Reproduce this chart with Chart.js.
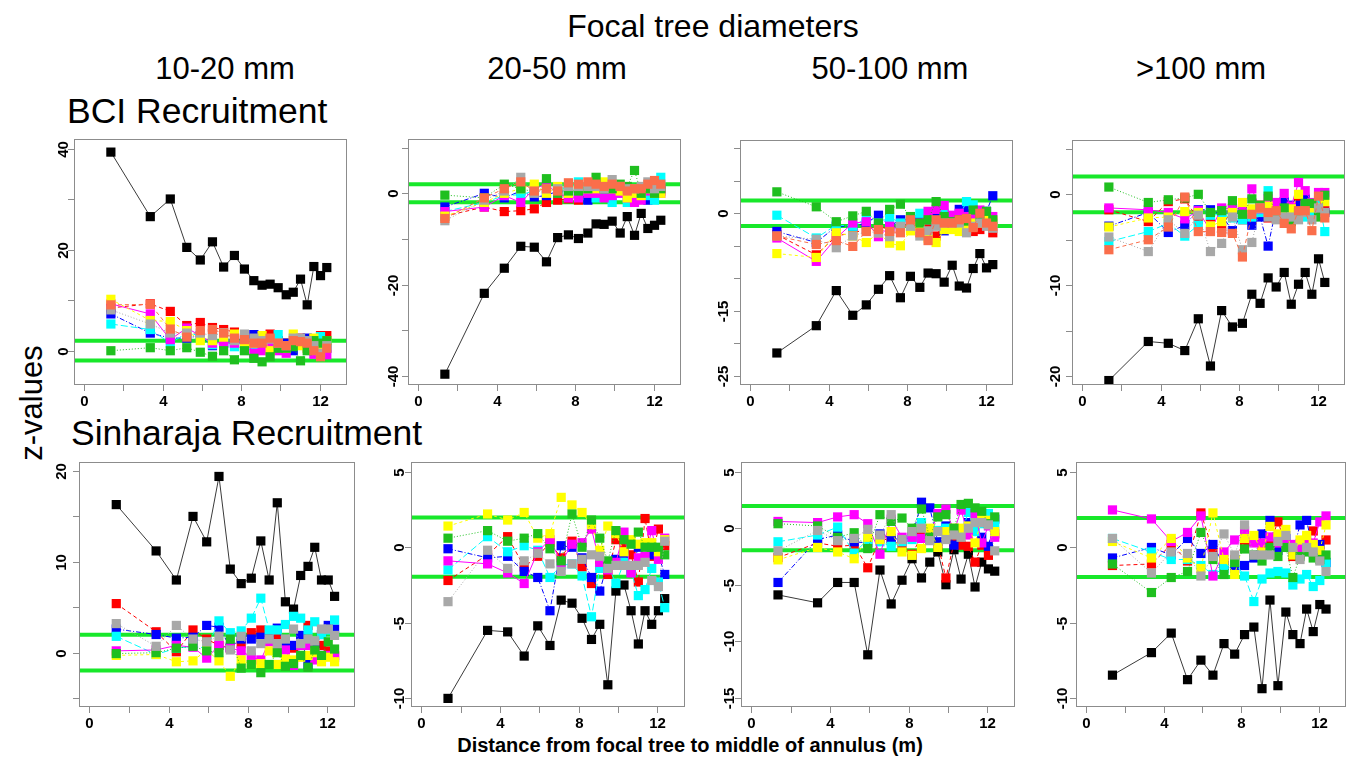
<!DOCTYPE html>
<html>
<head>
<meta charset="utf-8">
<script src="https://cdn.jsdelivr.net/npm/chart.js@4.4.0/dist/chart.umd.min.js"></script>
<style>
  body { margin: 0; background: #fff; width: 1352px; height: 757px; position: relative; overflow: hidden;
         font-family: "Liberation Sans", Arial, Helvetica, sans-serif; }
  .t { position: absolute; white-space: nowrap; line-height: 1; color: #000; }
  canvas { position: absolute; }
</style>
</head>
<body>
<script>
// distance from focal tree to middle of annulus (m)
const distance = [1.36, 3.37, 4.39, 5.23, 5.92, 6.54, 7.11, 7.66, 8.17, 8.65, 9.07, 9.48, 9.89, 10.3, 10.66, 11.03, 11.37, 11.71, 12.05, 12.37];

// series order: black, red, blue, cyan, magenta, yellow, green, grey, coral
const seriesColors = ["#000000", "#ff0000", "#0000ff", "#00ffff", "#ff00ff", "#ffff00", "#1fbf1f", "#a8a8a8", "#fa6e4b"];
const seriesDash = [[], [4, 3], [5, 2, 1, 2], [7, 3], [], [3, 3], [1, 2], [1, 2], [4, 3]];

const bci1020 = [
  [39.4, 26.6, 30.1, 20.5, 18.0, 21.6, 16.6, 18.9, 16.2, 13.9, 13.0, 13.2, 12.5, 11.1, 11.6, 14.2, 9.1, 16.7, 14.9, 16.5],
  [8.5, 9.3, 7.8, 5.0, 5.6, 4.6, 4.2, 3.7, 2.5, 2.5, 2.5, 3.3, 2.0, 1.5, 1.5, 2.5, 1.5, 1.0, 3.0, 3.0],
  [7.3, 3.5, 2.5, 2.5, 3.0, 1.0, 1.5, 1.5, 1.5, 3.2, 1.0, 2.0, 2.0, 1.5, 0.0, 1.5, 2.5, 0.5, 0.5, 0.5],
  [5.3, 4.2, 1.5, 3.5, 3.0, 1.2, 1.5, 0.8, 0.5, 1.0, 0.5, 1.5, 3.2, 1.0, 1.0, 1.5, 1.0, 0.5, 2.8, 1.5],
  [9.3, 7.3, 2.2, 4.5, 3.0, 1.5, 1.6, 1.5, 2.0, -0.5, 0.0, 1.0, 0.0, -0.5, 1.0, 2.0, 0.5, -0.7, 0.0, -0.8],
  [10.2, 6.0, 5.8, 4.0, 2.0, 2.0, 2.7, 3.3, 1.0, 1.5, 3.0, 0.0, 1.0, 0.5, 3.3, 1.0, 0.5, 2.5, 1.0, 2.0],
  [0.0, 0.6, 0.0, 0.6, -0.3, -1.1, 0.0, -1.8, 0.0, -1.5, -2.2, -1.2, 0.5, 0.5, 0.8, -2.0, 0.0, 2.0, 1.5, 2.0],
  [8.1, 5.3, 3.5, 3.5, 3.5, 3.0, 3.6, 2.0, 3.3, 2.5, 2.0, 2.3, 1.5, 1.0, 2.5, 2.5, 2.0, 1.0, -0.5, 1.0],
  [9.1, 9.2, 4.3, 2.7, 4.0, 4.2, 3.5, 2.5, 2.2, 1.5, 1.5, 2.5, 1.5, 1.0, 2.0, 1.8, 1.5, 0.0, -1.2, 0.5]
];
const bci2050 = [
  [-39.6, -21.9, -16.4, -11.6, -11.8, -15.0, -9.7, -9.1, -9.9, -8.7, -6.7, -6.8, -6.1, -8.7, -5.1, -9.2, -4.4, -7.7, -7.0, -5.9],
  [-5, -3, -4, -3.8, -3.4, -2, -1.5, -1.2, -1.5, 0, 0, -0.5, 0, 0, 0.5, 0, 0, 0, 0.5, 0.5],
  [-3, 0, -1, 0.5, -0.8, -0.5, 0.5, 0.5, 0, -1.5, 0.5, 0.5, 0.5, 0.5, 0, 0.5, 0.5, -1.5, 0, 1],
  [-4, -2, -0.5, -0.3, 0.5, 0.5, 1, 1, 2.5, 0.5, -1, 0, -2, 0, -2, 0, 0.5, -0.5, -1.5, 3.5],
  [-4, -3, -0.5, -2, 1, 2, 0, -1, -1, 0, 0, -1, -0.5, 0, -1, -2, -1.5, 0.5, 0.5, 0],
  [-5, -2, 0, 1, 2, 0, 1.5, 0, 1, 1, 1, 2.5, 1, 0.5, -1, 0, -0.5, 1, 0, 0],
  [-0.4, -1, 2, 1, 0.3, 3.2, 0, 0.5, 0.5, 1, 3.5, 1, 1, 2, 1.5, 5, 0, 1, 0, 1],
  [-6, -1.5, 0.5, 3.5, 0, 1, 1, 1.5, 1.5, 1.5, 1.5, 1, 3, 1.5, 1, 1, 1.5, 2.5, 1, 1.5],
  [-5.5, -1, 1, 2.5, 0.5, 1, 0.5, 2.3, 2, 2.5, 2, 1.5, 2, 1.5, 0.5, 1, 1, 2, 2.8, 2]
];
const bci50100 = [
  [-21.5, -17.3, -11.9, -15.7, -14.1, -11.7, -9.6, -13.0, -9.7, -11.4, -9.2, -9.3, -10.6, -8.0, -11.2, -11.5, -8.5, -6.2, -8.4, -7.9],
  [-3.3, -6.4, -3.5, -3, -2.5, -2, -2.5, -2.5, -1, -1.5, -1.5, -3.5, -1.5, -1.5, -2, -2.8, -2.8, -2.5, -1.8, -3],
  [-2.8, -4.5, -2, -2, -1.5, -0.3, -2, -1, -1, -1, -0.5, -0.8, -2.7, -1, 0.6, 0.8, -1, 0, 0.3, 2.7],
  [-0.3, -3.8, -1.8, -2, -0.8, -1.5, -0.6, -1.5, -1, 0, -1, -1.5, 0, -1, -0.5, 1.8, 1.3, -1, -1, -1.5],
  [-3.8, -7.4, -3.8, -1.5, -1.3, -3.6, -2, -2.5, -1.5, -1.5, 0.3, 0.6, 1.2, -0.3, 0, -0.5, -0.5, 0.5, -0.5, -0.5],
  [-6.2, -6.8, -3, -3.5, -4.5, -3, -4.6, -5, -2.7, -2, -3.8, -4.5, -2.5, -2.5, -2.8, -2.5, -1.5, -1.5, -1, -1.2],
  [3.3, 1, -1.3, -0.4, 0.3, -1.5, 0.6, 1.4, -0.5, -1.5, -1, 1.8, -0.5, -1.3, -1, -1.2, 0.5, -0.5, 0.3, -1],
  [-3.5, -4, -5.3, -3.5, -2.8, -3, -3.6, -2, -2, -3.5, -2.7, -2, -1.5, -1.5, -1.5, -3, -2, -1.5, -2, -2.3],
  [-3.5, -4.8, -4.2, -5.1, -2.8, -2.5, -2.8, -3, -1, -3, -4.2, -1, -1.5, -1.5, -1, -0.8, -2.2, 0, -1.5, -2]
];
const bci100 = [
  [-20.5, -16.2, -16.4, -17.2, -13.7, -18.9, -12.8, -14.6, -14.2, -11.0, -12.0, -9.2, -10.2, -8.6, -12.1, -9.9, -8.6, -11.0, -7.1, -9.7],
  [-1.7, -3, -0.8, -0.5, -2.8, -2.5, -3.6, -1.6, -2.8, -2.8, -1.2, -2.6, -2.5, -2, -1.5, -0.6, -1, -1.7, -1.5, -1.8],
  [-3.5, -2, -4.2, -3.4, -1.7, -1.7, -2.3, -4, -2, -3.4, -2.5, -5.7, -1.5, -0.8, -1.2, -1.2, -0.5, -1.8, -2.2, -2],
  [-5.2, -4.1, -3.2, -4.6, -3.4, -2.3, -2.2, -2.6, -2.8, -2.5, -2, 0.4, -1.5, -2.5, -2.8, -2, -2.5, -2, -0.7, -4.1],
  [-1.5, -1.7, -2, -2.7, -1.8, -4, -1.5, -1.6, -1.6, 0.6, -1.6, -0.5, -0.9, 0.1, -1.3, 1.3, 0.4, -0.9, 0.2, 0.2],
  [-3.6, -2.6, -2.5, -1.9, -2, -3.5, -3, -2, -0.9, -1.6, -1.5, -1.3, -2, -1.7, -1.6, 0, -1.2, -1.5, -1.5, -0.8],
  [0.8, -0.9, -0.6, -0.4, 0, -2, -1.8, -0.7, -2.2, -0.5, -1.2, -0.2, -2, -1.5, -3, -2, -1, -1, -2.5, -0.1],
  [-4.7, -6.3, -2.8, -4.3, -2.3, -6.3, -5.4, -2.5, -6.1, -5.3, -1.5, -2.5, -2.8, -2.5, -2.5, -2.8, -2, -2.8, -1.5, -2],
  [-6.1, -5, -3.6, -0.3, -4.1, -4.1, -4.2, -4.3, -6.9, -2.2, -1.5, -2, -1.8, -3.2, -3.8, -1.8, -1.8, -4, -0.2, -2.6]
];
const sin1020 = [
  [16.3, 11.2, 8.0, 15.0, 12.2, 19.4, 9.2, 7.6, 8.2, 12.3, 8.0, 16.5, 5.6, 4.8, 8.5, 9.5, 11.6, 8.0, 8.0, 6.2],
  [5.4, 2.3, 0.1, 2.5, 1.5, 0.8, 0.5, 1.0, 2.2, 2.5, 1.5, 1.7, 0.5, 0.5, 0.8, 3.0, 0.5, 0.8, 0.2, -0.3],
  [2.6, 2.0, 1.6, 1.7, 3.0, 2.8, 0.6, 1.5, 1.5, 1.7, 1.5, 2.7, 0.8, 0.8, 1.9, -1.3, 0.6, 2.0, 3.0, 2.6],
  [1.8, -0.2, 0.5, 0.7, 0.5, 3.5, 2.2, 2.4, 3.8, 6.0, 2.5, 2.5, 3.1, 4.0, 3.8, 2.5, 3.4, 2.0, 2.5, 3.6],
  [0.2, 0.3, 0.8, 0.6, -0.6, 0.8, 0.5, 0.2, -0.5, -0.8, 1.2, 0.3, 0.3, -1.4, 0.8, 0.8, -0.8, -0.3, -0.3, -0.5],
  [-0.3, -0.2, -1.0, -0.9, 0.3, -0.9, -2.6, -0.8, -1.3, -1.2, 0.2, -1.3, -0.7, -0.8, -0.5, -0.3, 0, -1.0, -0.5, -1.0],
  [-0.1, 0, 0.5, 0.7, 0.2, 0, 1.5, -1.7, -1.3, -2.2, -1.3, 0, -1.5, -1.2, -0.3, -1.6, 0.3, -0.3, 1.2, 0.4],
  [3.2, 0.7, 3.0, 1.5, 1.2, 1.8, 0.3, 1.8, 0.2, 1.0, 1.5, 1.0, 1.5, 2.6, 1.0, 1.5, 1.3, 2.6, 2.6, 1.9]
];
const sin2050 = [
  [-10.0, -5.5, -5.6, -7.2, -5.2, -6.5, -3.5, -3.7, -4.7, -6.1, -5.1, -9.1, -2.9, -2.5, -4.2, -6.4, -4.2, -5.1, -4.2, -3.4],
  [-2.2, -0.5, 0.7, -1.3, -0.6, 0.3, -0.7, 0.4, -1.3, -2.4, -1.2, -1.8, 0.5, 0, -0.5, -2.3, 1.9, -0.6, 1.2, 0.1],
  [-0.1, -0.7, -0.6, -1.6, -2.0, -4.2, 0.1, 0, -0.7, -2.0, -2.9, -1.0, -0.8, -0.4, -1.6, 0, 0.2, -0.5, -0.5, -1.8],
  [-1.5, 0.7, -0.3, 0.1, -0.2, -2.0, -1.2, -1.1, -1.9, -4.6, -1.4, -1.2, -2.4, -1.0, -1.6, -3.2, -2.8, -1.4, -2.3, -4.0],
  [-0.9, -1.1, -1.7, -2.4, -0.3, 0.5, -1.0, 0.2, 0.3, 1.2, -1.0, -1.5, -1.0, 1.0, -1.7, -0.7, -0.6, 1.1, -0.8, 0.6],
  [1.4, 2.2, 1.8, 2.3, 0.6, 0.9, 3.3, 2.8, 2.3, 1.5, -0.2, 1.4, 0.9, -0.3, 0.5, 0.2, 0.3, 0.3, -0.3, 0.5],
  [0.6, 1.1, 0.4, 0.6, 0.9, -0.1, -0.9, 2.2, 0, 1.8, 0.6, -0.9, 1.1, 0.5, 0.2, 1.0, 0, 0, 0, -0.5],
  [-3.6, -0.2, -1.4, -0.9, -0.4, -1.1, -1.6, -1.1, -0.8, -0.5, -0.6, -1.4, -1.2, -1.2, -1.2, -1.2, -1.0, -2.2, -2.6, 0.4]
];
const sin50100 = [
  [-5.9, -6.6, -4.8, -4.8, -11.2, -3.7, -6.7, -4.6, -2.7, -4.4, -3.0, -2.1, -5.0, -1.9, -4.5, -2.3, -5.2, -3.0, -3.6, -3.8],
  [-2.6, -1.3, -1.6, -1.5, -3.5, -0.9, -1.1, -1.5, -2.3, -0.7, -1.0, -1.4, -4.4, -1.3, -1.5, -1.6, -3.0, -1.5, -2.4, -0.5],
  [-4.8, -1.0, -0.6, -1.2, -1.3, -0.5, -0.9, -1.0, -0.8, 2.3, 1.8, -1.2, 0.2, -1.5, -0.3, 0.5, 0.3, -0.8, -1.6, 0.8],
  [-1.2, -0.6, 0.1, -2.2, -1.0, -1.2, -1.6, -1.2, -1.0, 0.5, -0.5, -0.2, 0, -0.5, -0.5, 1.4, -0.3, 0.4, 1.3, 0.3],
  [0.6, 0.5, 1.0, 1.2, 0.4, -2.3, 0.8, -0.8, -0.8, -0.9, -0.6, 1.3, 1.7, -0.3, 1.6, -0.6, 1.3, -1.3, 0.2, -0.8],
  [-2.8, -1.7, -2.1, -2.7, -0.8, -1.0, -0.3, -2.1, -2.4, -1.8, 0, -1.7, -0.3, 0, 0, 0.2, -1.3, 0.8, 0.7, -0.3],
  [0.4, 0.2, -0.8, -0.4, -1.8, 1.2, 0.6, 0.9, 0, 1.7, -0.8, 1.0, 1.2, 0, 2.1, 2.2, 1.8, 1.5, 0.4, 1.0],
  [-2.0, -0.2, -1.1, -0.9, -0.1, -0.6, 1.2, -1.0, -0.3, 0, -1.1, -0.3, -1.0, -0.6, -0.8, 0, 0.5, 0.5, 0.3, -2.0]
];
const sin100 = [
  [-8.5, -7.0, -5.7, -8.8, -7.5, -8.5, -6.4, -7.1, -5.8, -5.3, -9.4, -3.5, -9.2, -4.3, -5.8, -6.4, -4.1, -5.6, -3.8, -4.1],
  [-1.2, -1.1, 0.2, -0.9, 2.3, -0.2, -1.0, -0.8, 0.4, 0.4, -0.2, 0.3, 1.7, 0.2, -0.6, -0.5, 0.3, 1.1, 0, 0.5],
  [-0.7, 0, -0.5, 0.6, -0.4, 0.2, -1.2, -1.4, -1.2, -0.7, 0.9, 1.8, -0.2, 0.6, -0.3, 1.5, 1.8, -0.3, 0.2, -1.0],
  [0.6, -0.3, -0.8, -0.8, -1.2, -1.8, -1.4, -1.0, -1.9, -3.6, -2.1, -1.7, -1.6, -1.7, -2.5, -2.1, -1.8, -2.6, -2.2, -1.0],
  [2.5, 1.9, 0.4, 1.0, 2.1, -1.9, -0.3, 0.5, 1.1, 0.3, 0.3, 0.7, 0.3, 0.2, 0.2, 0, 0.5, 0.3, 1.7, 2.1],
  [0.4, -0.7, 0.6, -0.7, -1.4, 2.3, -0.8, -1.8, 0.6, 0.8, -0.3, 1.4, 0.9, 1.2, -0.5, 0.5, 0.8, 0.2, -0.2, 1.5],
  [-1.1, -3.0, -2.0, -1.6, 1.0, -0.8, -1.8, -1.0, -0.1, -0.5, -0.9, 0, -0.6, 0, -2.0, -0.6, -0.3, -0.7, -0.8, -0.5],
  [0.6, -1.7, -0.3, -0.4, -1.9, -0.6, 0.9, -0.5, 1.5, -0.5, -0.5, -0.5, 0.4, 0.8, 0, -0.8, 0, -0.3, -0.9, -1.6]
];

// significance bounds
const refLines = [1.96, -1.96];

const xTicks = [0, 2, 4, 6, 8, 10, 12];
const xTickLabels = [0, 4, 8, 12];

const yTicks = [
  [0, 10, 20, 30, 40], [-40, -30, -20, -10, 0, 10], [-25, -20, -15, -10, -5, 0, 5, 10], [-20, -15, -10, -5, 0, 5],
  [-5, 0, 5, 10, 15, 20], [-10, -5, 0, 5], [-15, -10, -5, 0, 5], [-10, -5, 0, 5]
];
const yTickLabels = [
  [0, 20, 40], [-40, -20, 0], [-25, -15, 0], [-20, -10, 0],
  [0, 10, 20], [-10, -5, 0, 5], [-15, -10, -5, 0, 5], [-10, -5, 0, 5]
];

const columnTitles = ["10-20 mm", "20-50 mm", "50-100 mm", ">100 mm"];

// layout: plot box [left, top, right, bottom], y range, gap of y labels
const panels = [
  { data: bci1020,  box: [74, 139, 347, 385],   yr: [-6.8, 42],      gap: 6 },
  { data: bci2050,  box: [408, 139, 681, 385],  yr: [-41.97, 11.89], gap: 10 },
  { data: bci50100, box: [740, 140, 1013, 385], yr: [-26.43, 11.28], gap: 12 },
  { data: bci100,   box: [1072, 140, 1345, 385],yr: [-20.99, 5.98],  gap: 12 },
  { data: sin1020,  box: [79, 462, 355, 707],   yr: [-5.98, 20.99],  gap: 13 },
  { data: sin2050,  box: [411, 462, 685, 707],  yr: [-10.57, 5.64],  gap: 7 },
  { data: sin50100, box: [741, 462, 1015, 707], yr: [-15.82, 5.86],  gap: 7.5 },
  { data: sin100,   box: [1076, 462, 1346, 707],yr: [-10.62, 5.69],  gap: 9 }
];

function addText(str, x, baseline, size, opts = {}) {
  const d = document.createElement("div");
  d.className = "t";
  d.textContent = str;
  d.style.fontSize = size + "px";
  d.style.fontWeight = opts.bold ? "bold" : "normal";
  d.style.top = (baseline - 0.8465 * size) + "px";
  d.style.left = x + "px";
  if (opts.center) d.style.transform = "translateX(-50%)";
  document.body.appendChild(d);
  return d;
}

addText("Focal tree diameters", 713, 37, 32, { center: true });
[225, 557, 890, 1201].forEach((cx, i) => addText(columnTitles[i], cx, 79, 31, { center: true }));
addText("BCI Recruitment", 67, 124, 35.5);
addText("Sinharaja Recruitment", 71, 446, 35.5);
addText("Distance from focal tree to middle of annulus (m)", 690, 752, 20, { bold: true, center: true });
const zl = addText("z-values", 31, 0, 31);
zl.style.top = "403px";
zl.style.transform = "translate(-50%, -50%) rotate(-90deg)";

// R style axes: box, ticks, rotated y labels, reference lines
const rAxes = {
  id: "rAxes",
  beforeDatasetsDraw(chart) {
    const { ctx, chartArea: a, scales: { y } } = chart;
    ctx.save();
    ctx.strokeStyle = "#18e82a";
    ctx.lineWidth = 4;
    refLines.forEach((v) => {
      const py = y.getPixelForValue(v);
      ctx.beginPath();
      ctx.moveTo(a.left, py);
      ctx.lineTo(a.right, py);
      ctx.stroke();
    });
    ctx.restore();
  },
  afterDatasetsDraw(chart, args, opts) {
    const { ctx, chartArea: a, scales: { x, y } } = chart;
    ctx.save();
    ctx.strokeStyle = "#8c8c8c";
    ctx.lineWidth = 1;
    ctx.strokeRect(a.left + 0.5, a.top + 0.5, a.width - 1, a.height - 1);
    ctx.fillStyle = "#000";
    ctx.font = "bold 15px 'Liberation Sans', Arial, sans-serif";
    ctx.textAlign = "center";
    ctx.textBaseline = "alphabetic";
    xTicks.forEach((v) => {
      const px = Math.round(x.getPixelForValue(v)) + 0.5;
      ctx.beginPath();
      ctx.moveTo(px, a.bottom);
      ctx.lineTo(px, a.bottom + 6);
      ctx.stroke();
      if (xTickLabels.includes(v)) ctx.fillText(String(v), px, a.bottom + 21);
    });
    opts.ticks.forEach((v) => {
      const py = Math.round(y.getPixelForValue(v)) + 0.5;
      ctx.beginPath();
      ctx.moveTo(a.left - 6, py);
      ctx.lineTo(a.left, py);
      ctx.stroke();
      if (opts.labels.includes(v)) {
        ctx.save();
        ctx.translate(a.left - opts.gap, py);
        ctx.rotate(-Math.PI / 2);
        ctx.fillText(String(v), 0, 0);
        ctx.restore();
      }
    });
    ctx.restore();
  }
};

const PAD = { left: 60, top: 10, right: 10, bottom: 35 };

panels.forEach((p, pi) => {
  const [l, t, r, b] = p.box;
  const cv = document.createElement("canvas");
  const w = r - l + PAD.left + PAD.right;
  const h = b - t + PAD.top + PAD.bottom;
  cv.width = w;
  cv.height = h;
  cv.style.left = (l - PAD.left) + "px";
  cv.style.top = (t - PAD.top) + "px";
  cv.style.width = w + "px";
  cv.style.height = h + "px";
  document.body.appendChild(cv);

  const n = p.data.length;
  const datasets = p.data.map((vals, i) => ({
    data: distance.map((d, k) => ({ x: d, y: vals[k] })),
    showLine: true,
    borderColor: i === 0 ? "#3a3a3a" : seriesColors[i],
    borderWidth: 1,
    borderDash: seriesDash[i],
    pointStyle: "rect",
    pointRadius: 6.5,
    pointHoverRadius: 6.5,
    pointBackgroundColor: seriesColors[i],
    pointBorderWidth: 0,
    order: n - i
  }));

  new Chart(cv.getContext("2d"), {
    type: "scatter",
    data: { datasets },
    options: {
      responsive: false,
      animation: false,
      devicePixelRatio: 1,
      events: [],
      layout: { padding: PAD },
      scales: {
        x: { type: "linear", min: -0.52, max: 13.4, display: false },
        y: { type: "linear", min: p.yr[0], max: p.yr[1], display: false }
      },
      plugins: {
        legend: { display: false },
        tooltip: { enabled: false },
        rAxes: { ticks: yTicks[pi], labels: yTickLabels[pi], gap: p.gap }
      }
    },
    plugins: [rAxes]
  });
});
</script>
</body>
</html>
